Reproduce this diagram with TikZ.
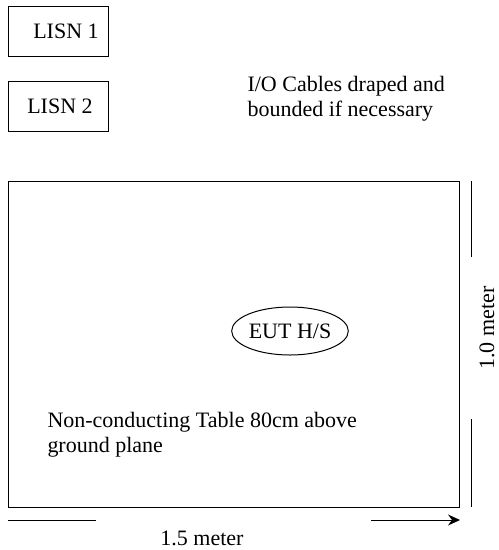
\documentclass[tikz,border=0pt]{standalone}
\usepackage{fontspec}
\setmainfont{Liberation Serif}
\usetikzlibrary{arrows.meta,shapes.geometric}

\begin{document}
\begin{tikzpicture}[x=1pt,y=-1pt,line width=1pt,
  every node/.style={font=\fontsize{22}{25}\selectfont},
  lbl/.style={inner sep=0pt,align=left}]
\useasboundingbox (0,0) rectangle (499,550);
\draw (8,6) rectangle (108,56);
\node (lisn1) at (66,31) {LISN 1};
\draw (8,81) rectangle (108,131);
\node (lisn2) at (60,106) {LISN 2};
\node[lbl,anchor=west] (cables) at (247,98.5) {I/O Cables draped and\\bounded if necessary};
\node[draw,rectangle,minimum width=451pt,minimum height=326pt] (table) at (233.5,344) {};
\node[draw,ellipse,inner sep=0pt,minimum width=112pt,minimum height=48pt] (eut) at (290,331) {EUT H/S};
\node[lbl,anchor=west] (plane) at (47,435) {Non-conducting Table 80cm above\\ground plane};
\coordinate (v1) at (471,181);
\coordinate (v2) at (471,257);
\coordinate (v3) at (471,419);
\coordinate (v4) at (471,507);
\draw (v1)--(v2);
\draw (v3)--(v4);
\node[rotate=90] (height) at (487,328) {1.0 meter};
\coordinate (h1) at (8,520);
\coordinate (h2) at (96,520);
\coordinate (h3) at (371,520);
\coordinate (h4) at (460,520);
\draw (h1)--(h2);
\draw[-{Stealth[length=12pt,width=11pt,inset=4pt]}] (h3)--(h4);
\node (width) at (202,538) {1.5 meter};
\end{tikzpicture}
\end{document}
